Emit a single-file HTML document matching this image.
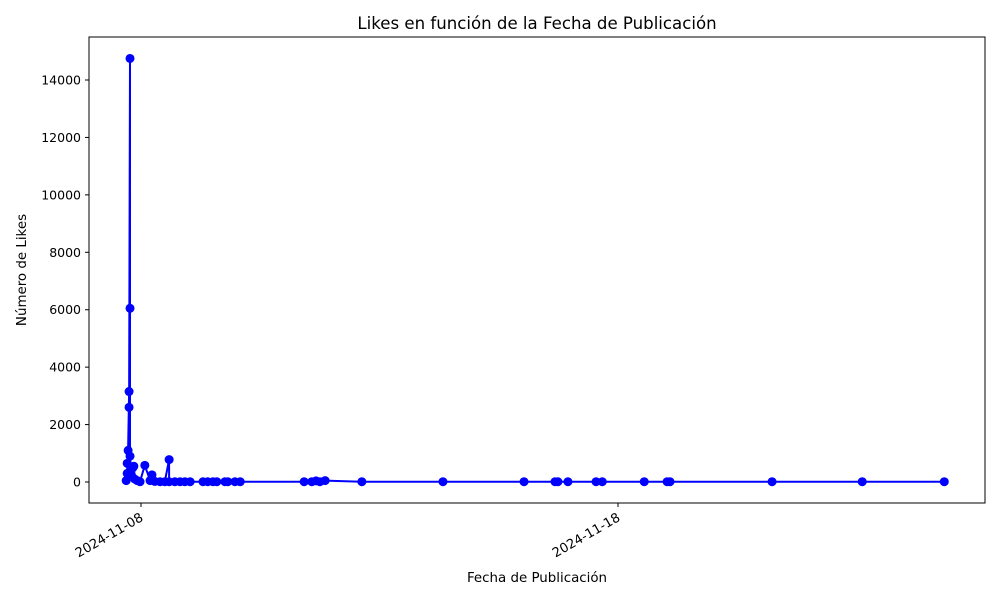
<!DOCTYPE html>
<html><head><meta charset="utf-8"><style>
body{margin:0;background:#fff;}
svg{display:block;font-family:"DejaVu Sans","Liberation Sans",sans-serif;}
</style></head><body>
<svg id="chart" width="1000" height="600">
<rect width="1000" height="600" fill="#fff"/>
<text x="537" y="29" font-size="16.6" text-anchor="middle">Likes en función de la Fecha de Publicación</text>
<g id="plot"></g>
<rect x="89" y="37" width="896" height="466" fill="none" stroke="#000" stroke-width="1"/>
<text x="537" y="582" font-size="13.4" text-anchor="middle">Fecha de Publicación</text>
<text transform="translate(26,270) rotate(-90)" font-size="13.4" text-anchor="middle">Número de Likes</text>
</svg>
<script>
// day offsets from 2024-11-08
const dayOffsets=[-0.31,-0.29,-0.29,-0.27,-0.25,-0.25,-0.23,-0.23,-0.23,-0.21,-0.19,-0.17,-0.15,-0.13,-0.08,-0.02,0.08,0.19,0.23,0.29,0.40,0.50,0.59,0.59,0.71,0.82,0.92,1.03,1.30,1.40,1.51,1.59,1.76,1.82,1.97,2.08,3.42,3.58,3.67,3.75,3.86,4.63,6.33,8.03,8.68,8.74,8.95,9.54,9.67,10.55,11.03,11.09,13.23,15.12,16.84];
const likes=[50,300,650,1100,3150,2600,14750,6050,900,400,200,500,550,100,50,10,580,50,250,20,10,10,780,10,10,10,10,10,10,10,10,10,10,10,10,10,10,10,40,10,50,10,10,10,10,10,10,10,10,10,10,10,10,10,10];
const yTicks=[0,2000,4000,6000,8000,10000,12000,14000];
const xTickDays=[0,10];
const xTickLabels=["2024-11-08","2024-11-18"];
const xs=d=>141+d*47.7;
const ys=v=>482-v*0.028714;
const NS="http://www.w3.org/2000/svg";
const svg=document.getElementById('chart');
const plot=document.getElementById('plot');
function mk(t,a,p){const e=document.createElementNS(NS,t);for(const k in a)e.setAttribute(k,a[k]);(p||svg).appendChild(e);return e;}
yTicks.forEach(v=>{
  const y=ys(v);
  const l=mk('line',{x1:85,x2:89,y1:y,y2:y,stroke:'#000'});
  
  
  const t=mk('text',{x:81,y:y+4.5,'font-size':12.5,'text-anchor':'end'});
  t.textContent=v;
  
  
});
xTickDays.forEach((d,i)=>{
  const x=xs(d);
  const l=mk('line',{x1:x,x2:x,y1:503,y2:507,stroke:'#000'});
  
  
  const t=mk('text',{transform:`translate(${x+3},${520}) rotate(-30)`,'font-size':13,'text-anchor':'end'});
  t.textContent=xTickLabels[i];
  
  
});
const pts=dayOffsets.map((d,i)=>xs(d).toFixed(1)+','+ys(likes[i]).toFixed(1)).join(' ');
const line=mk('polyline',{points:pts,fill:'none',stroke:'#0000ff','stroke-width':2},plot);


dayOffsets.forEach((d,i)=>{
  const c=mk('circle',{cx:xs(d),cy:ys(likes[i]),r:4.5,fill:'#0000ff'},plot);
  
  
});
</script>
</body></html>
